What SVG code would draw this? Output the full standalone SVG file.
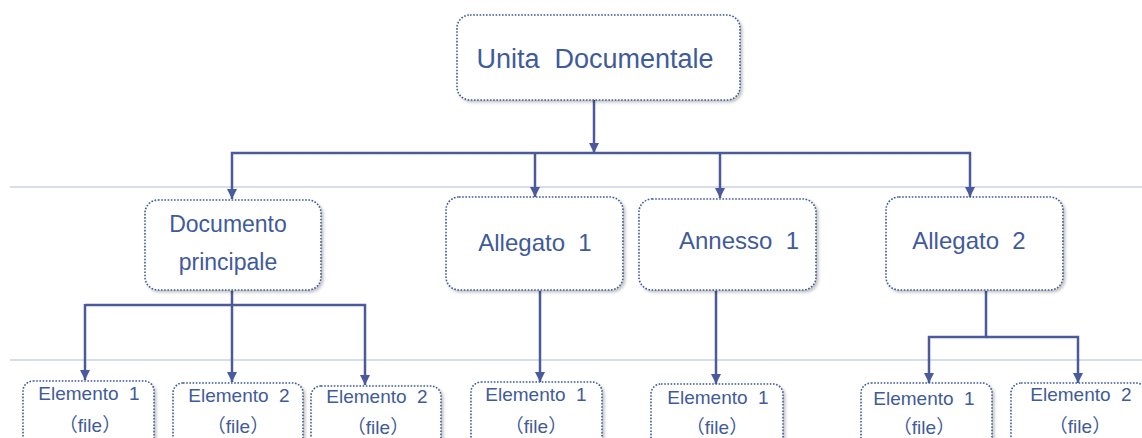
<svg xmlns="http://www.w3.org/2000/svg" width="1142" height="438" viewBox="0 0 1142 438">
<style>
.box{fill:#ffffff;stroke:#3f5b9a;stroke-width:1.6;stroke-dasharray:1.6 1.6;filter:url(#sh)}
.t{font-family:"Liberation Sans",Arial,"Noto Sans CJK SC",sans-serif;fill:#3f5b9a;text-anchor:middle;white-space:pre}
.big{font-size:27px}
.mid{font-size:24px}
.doc{font-size:23px}
.sm{font-size:19px}
.c{fill:none;stroke:#4a5a9c;stroke-width:2.5}
.guide{stroke:#c8d3e4;stroke-width:1.5}
</style>
<defs>
<filter id="sh" x="-10%" y="-10%" width="125%" height="130%">
<feDropShadow dx="2" dy="2" stdDeviation="1.5" flood-color="#000" flood-opacity="0.25"/>
</filter>
<marker id="arr" viewBox="0 0 10 10" refX="10" refY="5" markerWidth="4" markerHeight="4" orient="auto" markerUnits="strokeWidth">
<path d="M0,0 L10,5 L0,10 Z" fill="#4a5a9c"/>
</marker>
</defs>
<rect width="1142" height="438" fill="#ffffff"/>
<g id="guides">
<line class="guide" x1="10" y1="187" x2="1142" y2="187"/>
<line class="guide" x1="10" y1="360" x2="1142" y2="360"/>
</g>
<g id="connectors">
<line class="c" x1="594" y1="100" x2="594" y2="153" marker-end="url(#arr)"/>
<line class="c" x1="231" y1="153" x2="971" y2="153"/>
<line class="c" x1="232" y1="152" x2="232" y2="199" marker-end="url(#arr)"/>
<line class="c" x1="535" y1="152" x2="535" y2="197" marker-end="url(#arr)"/>
<line class="c" x1="720" y1="152" x2="720" y2="198" marker-end="url(#arr)"/>
<line class="c" x1="970" y1="152" x2="970" y2="197" marker-end="url(#arr)"/>
<polyline class="c" points="232,291 232,305"/>
<polyline class="c" points="85,305 365,305 365,385" marker-end="url(#arr)"/>
<line class="c" x1="85" y1="304" x2="85" y2="380" marker-end="url(#arr)"/>
<line class="c" x1="232" y1="305" x2="232" y2="382" marker-end="url(#arr)"/>
<line class="c" x1="540" y1="291" x2="540" y2="382" marker-end="url(#arr)"/>
<line class="c" x1="716" y1="291" x2="716" y2="384" marker-end="url(#arr)"/>
<polyline class="c" points="986,291 986,337 929,337 929,383" marker-end="url(#arr)"/>
<polyline class="c" points="986,337 1078,337 1078,383" marker-end="url(#arr)"/>
</g>
<g id="n-unita">
<rect class="box" x="457" y="15" width="283" height="85" rx="13"/>
<text class="t big" x="595" y="68">Unita  Documentale</text>
</g>
<g id="n-documento">
<rect class="box" x="145" y="200" width="176" height="90" rx="13"/>
<text class="t doc" x="228" y="232">Documento</text>
<text class="t doc" x="228" y="270">principale</text>
</g>
<g id="n-allegato1">
<rect class="box" x="446" y="197" width="177" height="93" rx="13"/>
<text class="t mid" x="535" y="251">Allegato  1</text>
</g>
<g id="n-annesso1">
<rect class="box" x="639" y="199" width="177" height="91" rx="13"/>
<text class="t mid" x="739" y="249">Annesso  1</text>
</g>
<g id="n-allegato2">
<rect class="box" x="886" y="197" width="177" height="93" rx="13"/>
<text class="t mid" x="969" y="249">Allegato  2</text>
</g>
<g id="n-e1">
<rect class="box" x="23" y="381" width="131" height="70" rx="10"/>
<text class="t sm" x="89" y="400">Elemento  1</text>
<text class="t sm" x="90" y="432">（file）</text>
</g>
<g id="n-e2">
<rect class="box" x="173" y="383" width="130" height="70" rx="10"/>
<text class="t sm" x="239" y="402">Elemento  2</text>
<text class="t sm" x="238" y="433">（file）</text>
</g>
<g id="n-e3">
<rect class="box" x="311" y="386" width="130" height="70" rx="10"/>
<text class="t sm" x="377" y="403">Elemento  2</text>
<text class="t sm" x="378" y="434">（file）</text>
</g>
<g id="n-e4">
<rect class="box" x="471" y="382" width="131" height="70" rx="10"/>
<text class="t sm" x="536" y="401">Elemento  1</text>
<text class="t sm" x="536" y="433">（file）</text>
</g>
<g id="n-e5">
<rect class="box" x="651" y="384" width="132" height="70" rx="10"/>
<text class="t sm" x="718" y="404">Elemento  1</text>
<text class="t sm" x="717" y="434">（file）</text>
</g>
<g id="n-e6">
<rect class="box" x="861" y="383" width="131" height="70" rx="10"/>
<text class="t sm" x="924" y="405">Elemento  1</text>
<text class="t sm" x="924" y="434">（file）</text>
</g>
<g id="n-e7">
<rect class="box" x="1011" y="383" width="135" height="70" rx="10"/>
<text class="t sm" x="1081" y="401">Elemento  2</text>
<text class="t sm" x="1080" y="433">（file）</text>
</g>
</svg>
